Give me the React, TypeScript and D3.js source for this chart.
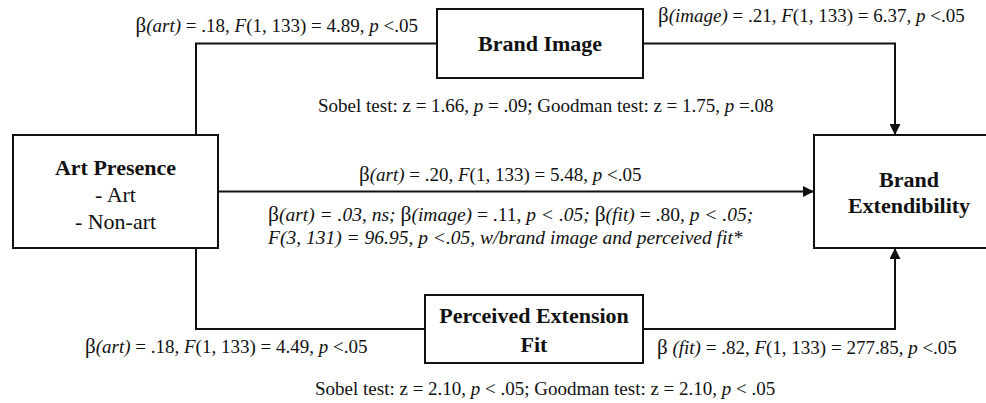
import React from 'react';
import * as d3 from 'd3';

const W = 986;
const H = 403;

// ---- content ----
const nodeIds = ['art', 'image', 'fit', 'ext'];
const nodeTitles = ['Art Presence', 'Brand Image', 'Perceived Extension', 'Brand'];
const nodeSubLines = [['- Art', '- Non-art'], [], [], []];
const nodeBoldExtra = [[], [], ['Fit'], ['Extendibility']];

const edges = [
  { from: 'art', to: 'image', arrow: false },
  { from: 'image', to: 'ext', arrow: true },
  { from: 'art', to: 'ext', arrow: true },
  { from: 'art', to: 'fit', arrow: false },
  { from: 'fit', to: 'ext', arrow: true },
];

// rich text: segments between underscores are italic
const pathLabels = [
  'β_(art)_ = .18, _F_(1, 133) = 4.89, _p_ <.05',
  'β_(image)_ = .21, _F_(1, 133) = 6.37, _p_ <.05',
  'Sobel test: z = 1.66, _p_ = .09; Goodman test: z = 1.75, _p_ =.08',
  'β_(art)_ = .20, _F_(1, 133) = 5.48, _p_ <.05',
  'β_(art) = .03, ns;_ β_(image)_ = .11, _p < .05;_ β_(fit)_ = .80, _p < .05;_',
  '_F(3, 131) = 96.95, p <.05, w/brand image and perceived fit*_',
  'β_(art)_ = .18, _F_(1, 133) = 4.49, _p_ <.05',
  'β _(fit)_ = .82, _F_(1, 133) = 277.85, _p_ <.05',
  'Sobel test: z = 2.10, _p_ < .05; Goodman test: z = 2.10, _p_ < .05',
];

// ---- layout (positions / styles only) ----
const boxLayout: Record<string, { x: number; y: number; w: number; h: number; base: number; gap: number }> = {
  art: { x: 13, y: 135, w: 205, h: 113, base: 175, gap: 27 },
  image: { x: 437, y: 9, w: 206, h: 69, base: 51, gap: 27 },
  fit: { x: 425, y: 295, w: 218, h: 68, base: 323, gap: 29 },
  ext: { x: 814, y: 135, w: 190, h: 113, base: 187, gap: 26 },
};
const trunkX = 196;
const extInX = 895;

const labelPos = [
  { x: 418, y: 32, a: 'end', fs: 19 },
  { x: 658, y: 22, a: 'start', fs: 19 },
  { x: 318, y: 112, a: 'start', fs: 19 },
  { x: 359, y: 181, a: 'start', fs: 19 },
  { x: 268, y: 221, a: 'start', fs: 19.5 },
  { x: 268, y: 244, a: 'start', fs: 19.5 },
  { x: 85, y: 353, a: 'start', fs: 19 },
  { x: 657, y: 354, a: 'start', fs: 19 },
  { x: 315, y: 395, a: 'start', fs: 19 },
];

const INK = '#111';
const FONT = '"Liberation Serif", "Times New Roman", serif';

function parseRich(s: string) {
  const out: { t: string; it: boolean; beta: boolean }[] = [];
  s.split('_').forEach((t, i) => {
    const it = i % 2 === 1;
    t.split(/(β)/).forEach((u) => {
      if (u.length) out.push({ t: u, it: u === 'β' ? false : it, beta: u === 'β' });
    });
  });
  return out;
}

function edgePoints(from: string, to: string): [number, number][] {
  const a = boxLayout[from];
  const b = boxLayout[to];
  const midY = (n: typeof a) => n.y + n.h / 2;
  if (from === 'art' && to === 'image') {
    return [[trunkX, a.y], [trunkX, midY(b)], [b.x, midY(b)]];
  }
  if (from === 'art' && to === 'fit') {
    return [[trunkX, a.y + a.h], [trunkX, midY(b)], [b.x, midY(b)]];
  }
  if (from === 'art' && to === 'ext') {
    return [[a.x + a.w, midY(a)], [b.x, midY(a)]];
  }
  if (from === 'image' && to === 'ext') {
    return [[a.x + a.w, midY(a)], [extInX, midY(a)], [extInX, b.y]];
  }
  // fit -> ext
  return [[a.x + a.w, midY(a)], [extInX, midY(a)], [extInX, b.y + b.h]];
}

export default function App() {
  const line = d3.line<[number, number]>().x((d) => d[0]).y((d) => d[1]);
  return (
    <svg
      width={W}
      height={H}
      viewBox={`0 0 ${W} ${H}`}
      style={{ position: 'absolute', left: 0, top: 0, background: '#fff' }}
      fontFamily={FONT}
    >
      <defs>
        <marker id="arr" viewBox="0 0 10 10" refX="10" refY="5" markerWidth="12" markerHeight="11" markerUnits="userSpaceOnUse" orient="auto">
          <path d="M0,0 L10,5 L0,10 Z" fill={INK} />
        </marker>
      </defs>
      <rect x={0} y={0} width={W} height={H} fill="#fff" />
      {edges.map((e, i) => (
        <path
          key={i}
          d={line(edgePoints(e.from, e.to)) || ''}
          fill="none"
          stroke={INK}
          strokeWidth={2}
          markerEnd={e.arrow ? 'url(#arr)' : undefined}
        />
      ))}
      {nodeIds.map((id, i) => {
        const b = boxLayout[id];
        const lines = [
          ...[nodeTitles[i], ...nodeBoldExtra[i]].map((t) => ({ t, bold: true })),
          ...nodeSubLines[i].map((t) => ({ t, bold: false })),
        ];
        return (
          <g key={id}>
            <rect x={b.x} y={b.y} width={b.w} height={b.h} fill="#fff" stroke={INK} strokeWidth={2} />
            {lines.map((l, j) => (
              <text
                key={j}
                x={b.x + b.w / 2}
                y={b.base + j * b.gap}
                textAnchor="middle"
                fontSize={22}
                fontWeight={l.bold ? 'bold' : 'normal'}
                fill={INK}
              >
                {l.t}
              </text>
            ))}
          </g>
        );
      })}
      {pathLabels.map((s, i) => {
        const p = labelPos[i];
        return (
          <text key={i} x={p.x} y={p.y} textAnchor={p.a as any} fontSize={p.fs} fill={INK} xmlSpace="preserve">
            {parseRich(s).map((seg, j) => (
              <tspan key={j} fontStyle={seg.it ? 'italic' : 'normal'} fontSize={seg.beta ? p.fs + 2 : undefined}>
                {seg.t}
              </tspan>
            ))}
          </text>
        );
      })}
    </svg>
  );
}
